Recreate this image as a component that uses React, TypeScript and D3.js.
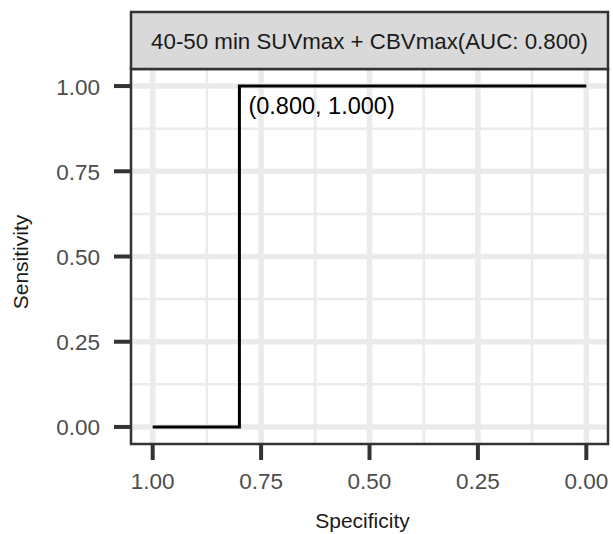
import React from "react";
import * as d3 from "d3";

const specificity = [1.0, 0.8, 0.8, 0.0];
const sensitivity = [0.0, 0.0, 1.0, 1.0];
const xTicks = [1.0, 0.75, 0.5, 0.25, 0.0];
const yTicks = [0.0, 0.25, 0.5, 0.75, 1.0];
const xMinor = [0.875, 0.625, 0.375, 0.125];
const yMinor = [0.125, 0.375, 0.625, 0.875];
const stripTitle = "40-50 min SUVmax + CBVmax(AUC: 0.800)";
const pointLabel = "(0.800, 1.000)";
const labelPoint = [0.8, 1.0];

export default function App() {
  const W = 613, H = 534;
  const L = 131, R = 608, T = 69, B = 444;
  const x = d3.scaleLinear().domain([1.05, -0.05]).range([L, R]);
  const y = d3.scaleLinear().domain([-0.05, 1.05]).range([B, T]);
  const line = d3.line<number>().x((_, i) => x(specificity[i])).y((d) => y(d)).curve(d3.curveLinear);
  const font = "'Liberation Sans', Arial, sans-serif";
  const grid = "#EBEBEB";
  const dark = "#333333";
  return (
    <svg width={W} height={H} style={{ position: "absolute", left: 0, top: 0 }} fontFamily={font}>
      <rect x={0} y={0} width={W} height={H} fill="#fff" />
      {xMinor.map((v) => (
        <line key={"xm" + v} x1={x(v)} x2={x(v)} y1={T} y2={B} stroke={grid} strokeWidth={2.5} />
      ))}
      {yMinor.map((v) => (
        <line key={"ym" + v} x1={L} x2={R} y1={y(v)} y2={y(v)} stroke={grid} strokeWidth={2.5} />
      ))}
      {xTicks.map((v) => (
        <line key={"xg" + v} x1={x(v)} x2={x(v)} y1={T} y2={B} stroke={grid} strokeWidth={5.5} />
      ))}
      {yTicks.map((v) => (
        <line key={"yg" + v} x1={L} x2={R} y1={y(v)} y2={y(v)} stroke={grid} strokeWidth={5.5} />
      ))}
      <path d={line(sensitivity) || ""} fill="none" stroke="#000" strokeWidth={3} />
      <text x={x(labelPoint[0]) + 9} y={y(labelPoint[1]) + 28} fontSize={23.5} fill="#000">
        {pointLabel}
      </text>
      <rect x={L} y={T} width={R - L} height={B - T} fill="none" stroke={dark} strokeWidth={2.5} />
      <rect x={L} y={12} width={R - L} height={T - 12} fill="#D9D9D9" stroke={dark} strokeWidth={2.5} />
      <text x={(L + R) / 2} y={48.5} textAnchor="middle" fontSize={22.3} fill="#1A1A1A">
        {stripTitle}
      </text>
      {xTicks.map((v) => (
        <g key={"xt" + v}>
          <line x1={x(v)} x2={x(v)} y1={B} y2={B + 16} stroke={dark} strokeWidth={4} />
          <text x={x(v)} y={489} textAnchor="middle" fontSize={22.5} fill="#4D4D4D">
            {d3.format(".2f")(v)}
          </text>
        </g>
      ))}
      {yTicks.map((v) => (
        <g key={"yt" + v}>
          <line x1={L - 17} x2={L} y1={y(v)} y2={y(v)} stroke={dark} strokeWidth={4} />
          <text x={100} y={y(v) + 8.5} textAnchor="end" fontSize={22.5} fill="#4D4D4D">
            {d3.format(".2f")(v)}
          </text>
        </g>
      ))}
      <text x={362.5} y={528} textAnchor="middle" fontSize={21} fill="#1A1A1A">
        Specificity
      </text>
      <text transform={`translate(28, 262) rotate(-90)`} textAnchor="middle" fontSize={21} fill="#1A1A1A">
        Sensitivity
      </text>
    </svg>
  );
}
